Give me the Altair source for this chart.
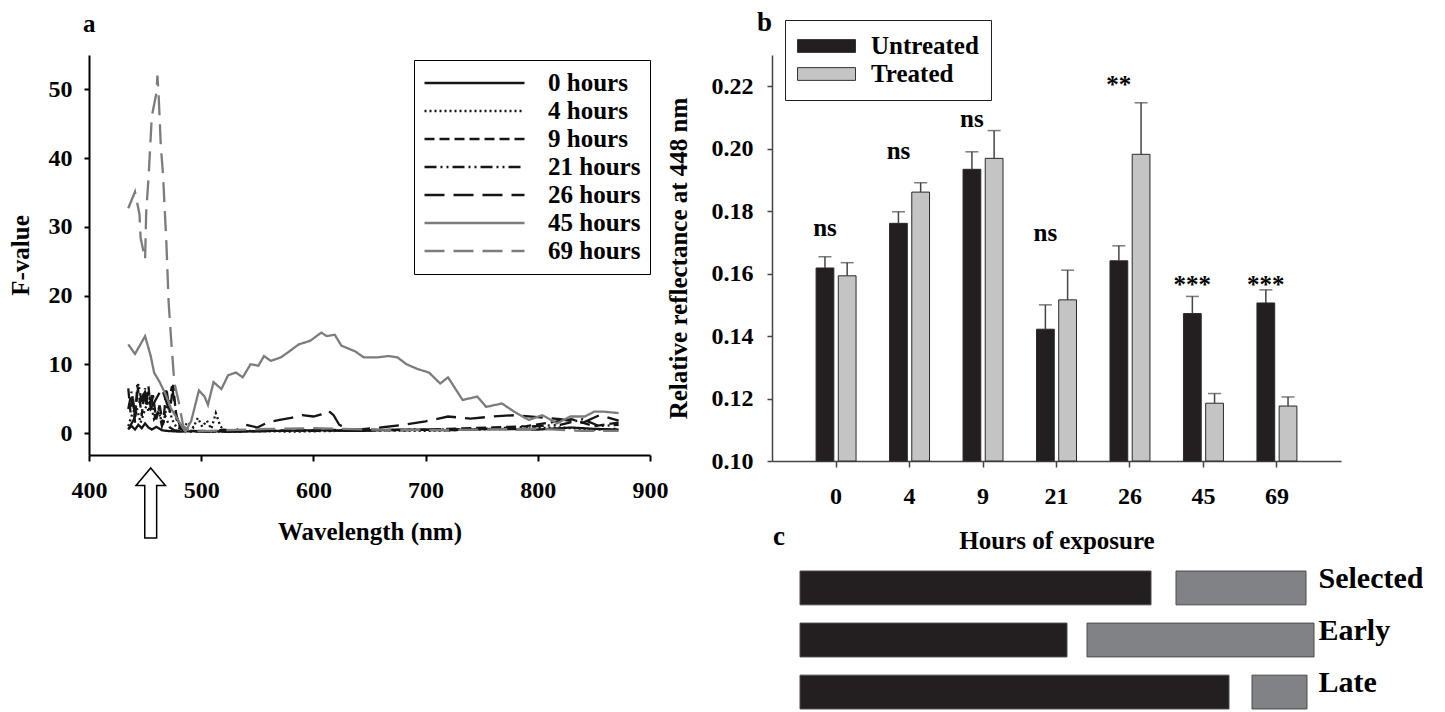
import altair as alt
import pandas as pd

FONT = "Liberation Serif"

# ---------------- panel a : F-value spectra ----------------
series_names = ["0 hours", "4 hours", "9 hours", "21 hours", "26 hours", "45 hours", "69 hours"]

wl_0h = [435, 438, 441, 444, 447, 450, 453, 456, 460, 465, 470, 480, 500, 530, 560, 600, 640, 680, 720, 760, 800, 830, 850, 872]
f_0h = [0.6, 1.0, 0.5, 1.2, 0.7, 1.4, 0.8, 0.5, 0.9, 0.4, 0.3, 0.2, 0.3, 0.2, 0.3, 0.4, 0.3, 0.5, 0.4, 0.6, 0.5, 0.8, 0.6, 0.5]

wl_4h = [435, 438, 442, 446, 450, 454, 458, 462, 466, 470, 474, 478, 483, 488, 493, 497, 501, 505, 509, 513, 517, 521, 525, 540, 580, 620, 660, 700, 740, 780, 820, 850, 872]
f_4h = [1.0, 2.5, 4.0, 1.5, 3.5, 5.0, 2.0, 3.0, 1.2, 4.5, 2.0, 0.8, 0.5, 1.6, 0.8, 2.2, 0.9, 1.8, 0.6, 2.9, 1.0, 0.3, 0.2, 0.3, 0.2, 0.3, 0.4, 0.3, 0.5, 0.6, 0.8, 0.5, 0.6]

wl_9h = [435, 437, 439, 441, 443, 445, 447, 449, 451, 453, 455, 457, 460, 463, 466, 469, 472, 475, 478, 482, 490, 520, 560, 600, 640, 680, 720, 760, 790, 810, 830, 850, 872]
f_9h = [6.5, 3.0, 5.5, 1.5, 7.0, 5.0, 2.5, 6.0, 4.0, 6.8, 3.5, 5.5, 2.0, 4.0, 1.2, 6.5, 3.0, 7.0, 2.0, 0.5, 0.3, 0.2, 0.3, 0.4, 0.5, 0.4, 0.6, 0.8, 1.0, 1.5, 2.0, 1.0, 1.5]

wl_21h = [435, 438, 441, 444, 447, 450, 453, 456, 459, 462, 465, 468, 472, 476, 480, 490, 520, 560, 600, 650, 700, 750, 790, 820, 840, 855, 872]
f_21h = [3.5, 6.0, 2.5, 7.2, 4.5, 6.5, 3.0, 5.5, 2.0, 3.5, 1.0, 2.5, 0.8, 0.4, 0.3, 0.2, 0.2, 0.3, 0.3, 0.4, 0.5, 0.6, 0.9, 1.2, 2.0, 1.0, 1.2]

wl_26h = [435, 440, 445, 450, 455, 460, 465, 470, 474, 478, 482, 490, 500, 510, 520, 530, 540, 550, 560, 570, 580, 590, 600, 607, 613, 618, 623, 630, 640, 660, 680, 700, 720, 740, 760, 780, 800, 820, 840, 855, 872]
f_26h = [0.5, 2.0, 4.5, 6.0, 3.5, 5.0, 6.5, 4.0, 6.8, 2.5, 0.6, 0.3, 0.2, 0.2, 0.5, 0.3, 1.2, 0.8, 1.6, 1.9, 2.2, 2.6, 2.4, 2.7, 3.3, 2.6, 1.2, 0.6, 0.5, 0.8, 1.2, 1.7, 2.4, 2.1, 2.4, 2.6, 2.3, 2.0, 1.5, 2.6, 1.8]

wl_45h = [435, 441, 450, 455, 458, 463, 468, 473, 480, 486, 491, 498, 503, 506, 511, 518, 524, 531, 537, 544, 551, 556, 562, 571, 577, 587, 597, 607, 612, 619, 625, 637, 645, 657, 667, 675, 683, 693, 703, 713, 720, 733, 746, 754, 768, 779, 792, 804, 817, 829, 842, 850, 859, 872]
f_45h = [12.9, 11.5, 14.1, 11.2, 8.8, 7.4, 5.7, 3.6, 1.7, 0.2, 1.7, 6.2, 5.3, 4.1, 7.4, 6.4, 8.4, 8.8, 8.1, 10.0, 9.8, 11.2, 10.5, 11.0, 11.7, 12.9, 13.4, 14.6, 14.1, 14.3, 12.7, 11.9, 11.0, 11.0, 11.2, 11.0, 10.0, 9.3, 8.8, 7.2, 8.1, 4.8, 5.3, 3.8, 4.3, 3.1, 1.9, 2.6, 1.4, 2.4, 2.4, 3.1, 3.1, 2.9]

wl_69h = [435, 441, 445, 446, 450, 451, 453, 456, 460, 461, 462, 464, 466, 469, 471, 473, 476, 480, 484, 491, 520, 560, 600, 650, 700, 750, 800, 840, 872]
f_69h = [32.7, 35.1, 31.8, 28.4, 25.3, 32.2, 37.0, 46.1, 49.4, 52.0, 49.4, 41.8, 37.5, 27.5, 18.9, 14.1, 7.4, 4.5, 1.0, 0.2, 0.4, 0.6, 0.7, 0.5, 0.4, 0.5, 0.6, 0.3, 0.3]

all_wl = [wl_0h, wl_4h, wl_9h, wl_21h, wl_26h, wl_45h, wl_69h]
all_f = [f_0h, f_4h, f_9h, f_21h, f_26h, f_45h, f_69h]
rows = []
for name, wls, fs in zip(series_names, all_wl, all_f):
    for w, v in zip(wls, fs):
        rows.append({"series": name, "wavelength": w, "F": v})
df_a = pd.DataFrame(rows)

series_colors = ["#151515", "#151515", "#151515", "#151515", "#151515", "#7c7c7c", "#7c7c7c"]
series_dashes = [[1, 0], [2, 3], [10, 5], [12, 4, 2, 4, 2, 4], [20, 9], [1, 0], [20, 9]]

arrow_wl = [455]
ARROW = "M0,-1L0.42,-0.5L0.17,-0.5L0.17,1L-0.17,1L-0.17,-0.5L-0.42,-0.5Z"

legend_a = alt.Legend(
    title=None, orient="none", legendX=325, legendY=5,
    symbolType="stroke", symbolSize=10000, symbolStrokeWidth=2.5, clipHeight=28,
    labelOffset=22, labelFont=FONT, labelFontSize=25, labelFontWeight="bold", labelColor="black",
    strokeColor="black", fillColor="white", padding=9, cornerRadius=0, rowPadding=0,
)

x_a = alt.X("wavelength:Q",
            scale=alt.Scale(domain=[400, 900], nice=False, zero=False),
            axis=alt.Axis(values=[400, 500, 600, 700, 800, 900], title="Wavelength (nm)", grid=False,
                          domainColor="black", domainWidth=2, tickColor="black", tickWidth=2, tickSize=6,
                          labelFont=FONT, labelFontSize=24, labelFontWeight="bold", labelColor="black",
                          labelPadding=17, titleFont=FONT, titleFontSize=25, titleFontWeight="bold",
                          titleColor="black", titlePadding=17, labelFlush=False))
y_a = alt.Y("F:Q",
            scale=alt.Scale(domain=[-3.2, 55], nice=False, zero=False),
            axis=alt.Axis(values=[0, 10, 20, 30, 40, 50], title="F-value", grid=False,
                          domainColor="black", domainWidth=2, tickColor="black", tickWidth=2, tickSize=5,
                          labelFont=FONT, labelFontSize=24, labelFontWeight="bold", labelColor="black",
                          labelPadding=12, titleFont=FONT, titleFontSize=25, titleFontWeight="bold",
                          titleColor="black", titlePadding=15, labelFlush=False))

lines = alt.Chart(df_a).mark_line(strokeWidth=2.3).encode(
    x=x_a,
    y=y_a,
    color=alt.Color("series:N", scale=alt.Scale(domain=series_names, range=series_colors), legend=legend_a),
    strokeDash=alt.StrokeDash("series:N", scale=alt.Scale(domain=series_names, range=series_dashes), legend=legend_a),
)

arrow = alt.Chart(pd.DataFrame({"wavelength": arrow_wl})).mark_point(
    shape=ARROW, size=4900, filled=True, fill="white", stroke="black", strokeWidth=1.5, opacity=1
).encode(x=alt.X("wavelength:Q"), y=alt.value(448))

panel_a = alt.layer(lines, arrow).properties(
    width=561, height=400,
    title=alt.TitleParams("a", anchor="start", frame="group", dx=-6, offset=-2, baseline="alphabetic",
                          font=FONT, fontSize=25, fontWeight="bold", color="black"),
)

# ---------------- panel b : bars ----------------
hours_labels = ["0", "4", "9", "21", "26", "45", "69"]
groups = ["Untreated", "Treated"]
untreated_mean = [0.1618, 0.1761, 0.1934, 0.1422, 0.1641, 0.1472, 0.1506]
untreated_err = [0.0036, 0.0037, 0.0056, 0.0078, 0.0048, 0.0055, 0.0042]
treated_mean = [0.1593, 0.1861, 0.1969, 0.1516, 0.1982, 0.1185, 0.1176]
treated_err = [0.0042, 0.0030, 0.0089, 0.0095, 0.0165, 0.0031, 0.0029]
sig_labels = ["ns", "ns", "ns", "ns", "**", "***", "***"]
sig_pos = [0.1745, 0.1992, 0.2094, 0.1730, 0.2203, 0.1562, 0.1562]

brows = []
for h, um, ue, tm, te in zip(hours_labels, untreated_mean, untreated_err, treated_mean, treated_err):
    brows.append({"hours": h, "group": "Untreated", "mean": um, "upper": um + ue})
    brows.append({"hours": h, "group": "Treated", "mean": tm, "upper": tm + te})
df_b = pd.DataFrame(brows)
df_sig = pd.DataFrame({"hours": hours_labels, "group": ["Untreated"] * 7, "label": sig_labels, "pos": sig_pos})

xs_b = alt.Scale(domain=hours_labels, paddingInner=0.456, paddingOuter=0.6)
xo_b = alt.Scale(domain=groups, paddingInner=0.2)
ys_b = alt.Scale(domain=[0.10, 0.23], nice=False, zero=False)

x_b = alt.X("hours:N", scale=xs_b,
            axis=alt.Axis(title="Hours of exposure", labelAngle=0, grid=False,
                          domainColor="#444", domainWidth=1.5, tickColor="#444", tickWidth=1.5, tickSize=6,
                          labelFont=FONT, labelFontSize=24, labelFontWeight="bold", labelColor="black",
                          labelPadding=17, titleFont=FONT, titleFontSize=25, titleFontWeight="bold",
                          titleColor="black", titlePadding=20))
y_b = alt.Y("mean:Q", scale=ys_b,
            axis=alt.Axis(values=[0.10, 0.12, 0.14, 0.16, 0.18, 0.20, 0.22], format=".2f",
                          title="Relative reflectance at 448 nm", grid=False,
                          domainColor="#444", domainWidth=1.5, tickColor="#444", tickWidth=1.5, tickSize=5,
                          labelFont=FONT, labelFontSize=24, labelFontWeight="bold", labelColor="black",
                          labelPadding=14, titleFont=FONT, titleFontSize=25, titleFontWeight="bold",
                          titleColor="black", titlePadding=20))

legend_b = alt.Legend(
    title=None, orient="none", legendX=13, legendY=-35,
    symbolType="M-1,-0.22H1V0.22H-1Z", symbolSize=3364, symbolStrokeColor="#333", symbolStrokeWidth=1,
    clipHeight=28, labelOffset=15, labelFont=FONT, labelFontSize=25, labelFontWeight="bold",
    labelColor="black", strokeColor="#222", fillColor="white", padding=12, cornerRadius=0, rowPadding=0,
)

bars = alt.Chart(df_b).mark_bar(stroke="#2a2a2a", strokeWidth=1).encode(
    x=x_b,
    xOffset=alt.XOffset("group:N", scale=xo_b),
    y=y_b,
    y2=alt.datum(0.10),
    color=alt.Color("group:N", scale=alt.Scale(domain=groups, range=["#231f20", "#c4c4c4"]), legend=legend_b),
)
err = alt.Chart(df_b).mark_rule(color="#444", strokeWidth=1.5).encode(
    x=alt.X("hours:N", scale=xs_b),
    xOffset=alt.XOffset("group:N", scale=xo_b),
    y=alt.Y("mean:Q", scale=ys_b),
    y2="upper:Q",
)
caps = alt.Chart(df_b).mark_tick(color="#444", thickness=1.5, size=13).encode(
    x=alt.X("hours:N", scale=xs_b),
    xOffset=alt.XOffset("group:N", scale=xo_b),
    y=alt.Y("upper:Q", scale=ys_b),
)
sig = alt.Chart(df_sig).mark_text(font=FONT, fontSize=25, fontWeight="bold", baseline="middle", color="black").encode(
    x=alt.X("hours:N", scale=xs_b),
    xOffset=alt.XOffset("group:N", scale=xo_b),
    y=alt.Y("pos:Q", scale=ys_b),
    text="label:N",
)

panel_b = alt.layer(bars, err, caps, sig).properties(
    width=569, height=406,
    title=alt.TitleParams("b", anchor="start", frame="group", dx=-15, offset=-38, baseline="alphabetic",
                          font=FONT, fontSize=27, fontWeight="bold", color="black"),
)

# ---------------- panel c : ranges ----------------
c_rows = ["Selected", "Early", "Late"]
c_black_end = [351, 267, 429]
c_gray_start = [376, 287, 452]
c_gray_end = [506, 514, 507]

crows = []
for r, be, gs, ge in zip(c_rows, c_black_end, c_gray_start, c_gray_end):
    crows.append({"row": r, "kind": "first", "start": 0, "end": be})
    crows.append({"row": r, "kind": "second", "start": gs, "end": ge})
df_c = pd.DataFrame(crows)

panel_c = alt.Chart(df_c).mark_bar(stroke="#4a4a4a", strokeWidth=1).encode(
    x=alt.X("start:Q", scale=alt.Scale(domain=[-28, 514], nice=False, zero=False), axis=None),
    x2="end:Q",
    y=alt.Y("row:N", scale=alt.Scale(domain=c_rows, paddingInner=0.35, paddingOuter=0.25),
            axis=alt.Axis(orient="right", title=None, domain=False, ticks=False, labelPadding=4,
                          labelOffset=-9, labelFont=FONT, labelFontSize=30, labelFontWeight="bold",
                          labelColor="black", labelAlign="left", labelBaseline="middle")),
    color=alt.Color("kind:N", scale=alt.Scale(domain=["first", "second"], range=["#231f20", "#808285"]), legend=None),
).properties(
    width=542, height=164,
    title=alt.TitleParams("c", anchor="start", frame="group", dx=1, offset=-14, baseline="alphabetic",
                          font=FONT, fontSize=27, fontWeight="bold", color="black"),
)

right_col = alt.vconcat(panel_b, panel_c, spacing=97, bounds="flush").resolve_scale(
    color="independent").resolve_legend(color="independent")
chart = alt.hconcat(panel_a, right_col, spacing=122, bounds="flush", padding=0).resolve_scale(
    color="independent", strokeDash="independent"
).resolve_legend(color="independent", strokeDash="independent").configure(
    font=FONT
).configure_view(stroke=None)

chart.save("out.html", embed_options={"renderer": "svg", "actions": False})
